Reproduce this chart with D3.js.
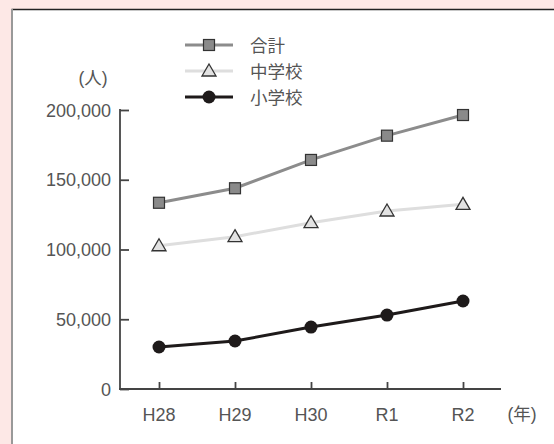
<!DOCTYPE html>
<html>
<head>
<meta charset="utf-8">
<script src="https://cdn.jsdelivr.net/npm/d3@7"></script>
<style>
  body { margin: 0; background: #fde8e6; }
  text { font-family: "Liberation Sans", "Noto Sans CJK JP", sans-serif; fill: #555; }
</style>
</head>
<body>
<div id="chart"></div>
<script>
var svgWidth = 554;
var svgHeight = 444;

// data
var years = ["H28", "H29", "H30", "R1", "R2"];
var total = [133500, 143900, 164200, 181600, 196400];
var junior = [102700, 109200, 119200, 127600, 132400];
var elementary = [30100, 34400, 44400, 53000, 63100];
var yTicks = [0, 50000, 100000, 150000, 200000];
var seriesNames = ["合計", "中学校", "小学校"];

var svg = d3.select("#chart")
    .append("svg")
    .attr("width", svgWidth)
    .attr("height", svgHeight);

// panel
svg.append("rect")
    .attr("x", 12).attr("y", 10)
    .attr("width", 560).attr("height", 460)
    .attr("fill", "#fff");
svg.append("line")
    .attr("x1", 11.5).attr("x2", 560).attr("y1", 9.5).attr("y2", 9.5)
    .attr("stroke", "#222").attr("stroke-width", 1.5);
svg.append("line")
    .attr("x1", 12).attr("x2", 12).attr("y1", 9).attr("y2", 444)
    .attr("stroke", "#999").attr("stroke-width", 2);

var xScale = d3.scalePoint()
    .domain(years)
    .range([159, 463]);

var yScale = d3.scaleLinear()
    .domain([0, 200000])
    .range([389, 110]);

var axisColor = "#444";

// y axis, ticks pointing inward
var yAxis = svg.append("g")
    .attr("transform", "translate(120,0)")
    .call(d3.axisRight(yScale).tickValues(yTicks).tickSize(9).tickFormat(""));
yAxis.select(".domain").attr("stroke", axisColor).attr("stroke-width", 1.8).attr("d", "M0,109V389");
yAxis.selectAll(".tick line").attr("stroke", axisColor).attr("stroke-width", 1.8);

svg.append("g")
    .selectAll("text")
    .data(yTicks)
    .enter()
    .append("text")
    .attr("x", 111)
    .attr("y", d => yScale(d) + 6.5)
    .attr("text-anchor", "end")
    .attr("font-size", "18px")
    .text(d => d3.format(",")(d));

// x axis, ticks pointing up
var xAxis = svg.append("g")
    .attr("transform", "translate(0,389)")
    .call(d3.axisTop(xScale).tickSize(7).tickFormat(""));
xAxis.select(".domain").attr("stroke", axisColor).attr("stroke-width", 1.8).attr("d", "M119,0H501");
xAxis.selectAll(".tick line").attr("stroke", axisColor).attr("stroke-width", 1.8);

svg.append("g")
    .selectAll("text")
    .data(years)
    .enter()
    .append("text")
    .attr("x", d => xScale(d))
    .attr("y", 420.5)
    .attr("text-anchor", "middle")
    .attr("font-size", "18px")
    .text(d => d);

svg.append("text")
    .attr("x", 522).attr("y", 420)
    .attr("text-anchor", "middle")
    .attr("font-size", "17.5px")
    .text("(年)");

svg.append("text")
    .attr("x", 93).attr("y", 84)
    .attr("text-anchor", "middle")
    .attr("font-size", "17.5px")
    .text("(人)");

var line = d3.line()
    .x((d, i) => xScale(years[i]))
    .y(d => yScale(d));

var styles = [
    { data: total, stroke: "#8c8c8c", marker: "square", fill: "#8a8a8a" },
    { data: junior, stroke: "#dedede", marker: "triangle", fill: "#e2e2e2" },
    { data: elementary, stroke: "#1e1a1a", marker: "circle", fill: "#1e1a1a" }
];

function drawMarker(g, type, fill) {
    if (type === "square") {
        g.append("rect")
            .attr("x", -5.5).attr("y", -5.5)
            .attr("width", 11).attr("height", 11)
            .attr("fill", fill).attr("stroke", "#333").attr("stroke-width", 1.2);
    } else if (type === "triangle") {
        g.append("path")
            .attr("d", "M0,-7L7,5L-7,5Z")
            .attr("fill", fill).attr("stroke", "#333").attr("stroke-width", 1.3);
    } else {
        g.append("circle")
            .attr("r", 6.5)
            .attr("fill", fill);
    }
}

styles.forEach(function(s) {
    svg.append("path")
        .datum(s.data)
        .attr("fill", "none")
        .attr("stroke", s.stroke)
        .attr("stroke-width", 3)
        .attr("d", line);

    svg.append("g")
        .selectAll("g")
        .data(s.data)
        .enter()
        .append("g")
        .attr("transform", (d, i) => `translate(${xScale(years[i])},${yScale(d)})`)
        .each(function() { drawMarker(d3.select(this), s.marker, s.fill); });
});

// legend
var legendY = [45, 71, 97];
styles.forEach(function(s, i) {
    var g = svg.append("g").attr("transform", `translate(209,${legendY[i]})`);
    g.append("line")
        .attr("x1", -24).attr("x2", 24)
        .attr("stroke", s.stroke).attr("stroke-width", 3);
    drawMarker(g, s.marker, s.fill);
    g.append("text")
        .attr("x", 41).attr("y", 6.5)
        .attr("font-size", "17.5px")
        .attr("font-family", "Noto Sans CJK JP")
        .text(seriesNames[i]);
});
</script>
</body>
</html>
